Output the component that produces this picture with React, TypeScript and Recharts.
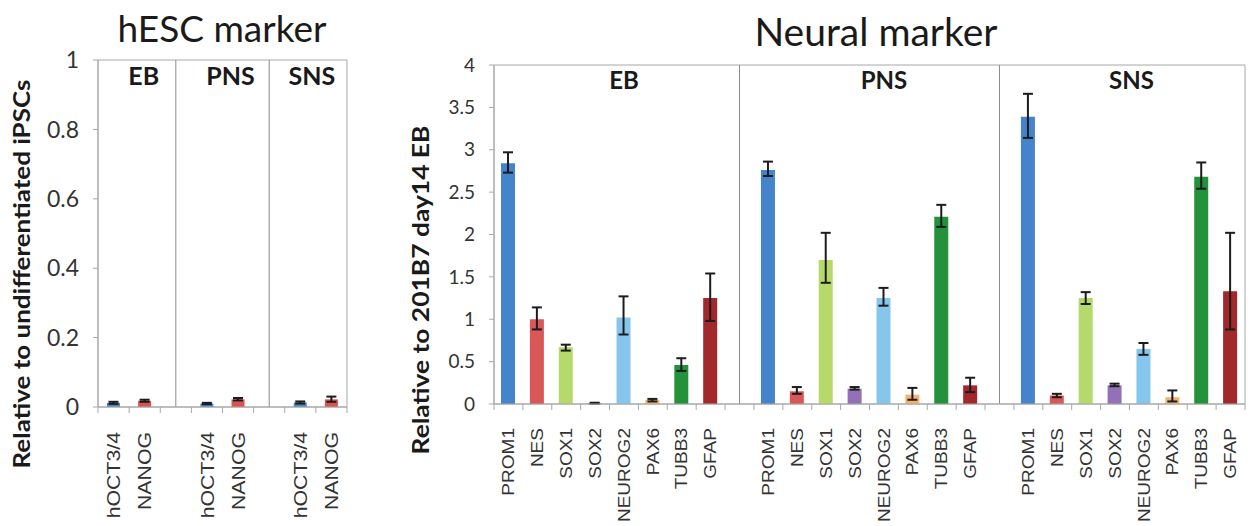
import React from 'react'
import {
  BarChart, Bar, XAxis, YAxis, Cell, ErrorBar,
  ReferenceLine, ReferenceArea,
} from 'recharts'

const stages = ['EB', 'PNS', 'SNS']

// hESC markers, one value per stage (EB, PNS, SNS)
const hescMarkers = ['hOCT3/4', 'NANOG']
const hescColors = ['#4a86c8', '#d9534f']
const hescTicks = [0, 0.2, 0.4, 0.6, 0.8, 1]
const octMean = [0.012, 0.010, 0.013]
const octLow = [0.009, 0.008, 0.010]
const octHigh = [0.015, 0.012, 0.016]
const nanogMean = [0.018, 0.022, 0.022]
const nanogLow = [0.015, 0.019, 0.015]
const nanogHigh = [0.021, 0.026, 0.030]

// neural markers, one array per stage
const neuralMarkers = ['PROM1', 'NES', 'SOX1', 'SOX2', 'NEUROG2', 'PAX6', 'TUBB3', 'GFAP']
const neuralColors = ['#4584cc', '#d95757', '#b6d96b', '#9470b8', '#86c6ec', '#f5b26e', '#23923b', '#a3282c']
const neuralTicks = [0, 0.5, 1, 1.5, 2, 2.5, 3, 3.5, 4]
const ebMean = [2.84, 1.0, 0.67, 0.01, 1.02, 0.05, 0.46, 1.25]
const ebLow = [2.73, 0.88, 0.63, 0.005, 0.82, 0.03, 0.39, 0.98]
const ebHigh = [2.97, 1.14, 0.70, 0.015, 1.27, 0.06, 0.54, 1.54]
const pnsMean = [2.76, 0.15, 1.70, 0.18, 1.25, 0.11, 2.21, 0.22]
const pnsLow = [2.69, 0.12, 1.43, 0.17, 1.16, 0.05, 2.09, 0.14]
const pnsHigh = [2.86, 0.20, 2.02, 0.20, 1.37, 0.19, 2.35, 0.31]
const snsMean = [3.39, 0.10, 1.25, 0.22, 0.65, 0.08, 2.68, 1.33]
const snsLow = [3.14, 0.08, 1.18, 0.21, 0.58, 0.03, 2.54, 0.88]
const snsHigh = [3.66, 0.12, 1.32, 0.24, 0.72, 0.16, 2.85, 2.02]

const FONT = 'Lato, "Open Sans", sans-serif'
const GRID = '#a8a8a8'

type Row = { key: string; label: string; value: number | null; err?: [number, number]; color?: string }

function buildRows(markers: string[], colors: string[], mean: number[][], low: number[][], high: number[][]) {
  const rows: Row[] = []
  stages.forEach((stage, s) => {
    if (s > 0) rows.push({ key: `gap${s}`, label: '', value: null })
    markers.forEach((m, i) => {
      rows.push({
        key: `${stage}|${m}`,
        label: m,
        value: mean[s][i],
        err: [mean[s][i] - low[s][i], high[s][i] - mean[s][i]],
        color: colors[i],
      })
    })
  })
  return rows
}

const hescRows = buildRows(
  hescMarkers, hescColors,
  stages.map((_, s) => [octMean[s], nanogMean[s]]),
  stages.map((_, s) => [octLow[s], nanogLow[s]]),
  stages.map((_, s) => [octHigh[s], nanogHigh[s]]),
)
const neuralRows = buildRows(
  neuralMarkers, neuralColors,
  [ebMean, pnsMean, snsMean],
  [ebLow, pnsLow, snsLow],
  [ebHigh, pnsHigh, snsHigh],
)

// category tick: Excel style marks between categories, rotated label
function SlotTick(props: any) {
  const { x, y, index, slot, count, fontSize, textGap } = props
  const row = props.rows[index] as Row
  const ty = y + textGap
  return (
    <g>
      <line x1={x - slot / 2} x2={x - slot / 2} y1={y} y2={y + 6} stroke={GRID} />
      {index === count - 1 && (
        <line x1={x + slot / 2} x2={x + slot / 2} y1={y} y2={y + 6} stroke={GRID} />
      )}
      {row && row.label && (
        <text
          x={0}
          y={0}
          transform={`translate(${x}, ${ty}) rotate(-90) scale(1.12, 1)`}
          textAnchor="end"
          dominantBaseline="central"
          fontSize={fontSize}
          fontFamily='"Liberation Sans", Arial, sans-serif'
          fill="#333"
        >
          {row.label}
        </text>
      )}
    </g>
  )
}

function StageLabel(props: any) {
  const { viewBox, text, offset, fontSize, dx } = props
  if (!viewBox) return null
  return (
    <text
      x={viewBox.x + viewBox.width / 2 + (dx || 0)}
      y={viewBox.y + offset}
      textAnchor="middle"
      dominantBaseline="hanging"
      fontSize={fontSize}
      fontWeight={700}
      fontFamily={FONT}
      fill="#1a1a1a"
    >
      {text}
    </text>
  )
}

interface ChartProps {
  rows: Row[]
  width: number
  height: number
  margin: { top: number; right: number; bottom: number; left: number }
  yWidth: number
  yMax: number
  yTicks: number[]
  yFont: number
  barSize: number
  xFont: number
  textGap: number
  stageFont: number
  stageOffset: number
  spans: [string, string][]
  stageDx: number[]
}

function MarkerChart(p: ChartProps) {
  const count = p.rows.length
  const slot = (p.width - p.margin.left - p.margin.right - p.yWidth) / count
  const gaps = p.rows.filter(r => r.value === null).map(r => r.key)
  return (
    <BarChart
      width={p.width}
      height={p.height}
      data={p.rows}
      margin={p.margin}
      barCategoryGap={0}
    >
      <ReferenceArea
        x1={p.rows[0].key}
        x2={p.rows[count - 1].key}
        y1={0}
        y2={p.yMax}
        fill="none"
        stroke={GRID}
        strokeWidth={1}
      />
      {gaps.map(g => (
        <ReferenceLine key={g} x={g} stroke="#8c8c8c" strokeWidth={1} />
      ))}
      {stages.map((s, i) => (
        <ReferenceArea
          key={s}
          x1={p.spans[i][0]}
          x2={p.spans[i][1]}
          y1={0}
          y2={p.yMax}
          fill="none"
          stroke="none"
          label={<StageLabel text={s} offset={p.stageOffset} fontSize={p.stageFont} dx={p.stageDx[i]} />}
        />
      ))}
      <XAxis
        dataKey="key"
        interval={0}
        height={100}
        tickSize={0}
        tickMargin={0}
        tickLine={false}
        axisLine={{ stroke: GRID }}
        tick={<SlotTick rows={p.rows} slot={slot} count={count} fontSize={p.xFont} textGap={p.textGap} />}
      />
      <YAxis
        width={p.yWidth}
        domain={[0, p.yMax]}
        ticks={p.yTicks}
        interval={0}
        tickSize={5}
        tickMargin={14}
        axisLine={{ stroke: GRID }}
        tickLine={{ stroke: GRID }}
        tick={{ fontSize: p.yFont, fill: '#333', fontFamily: FONT }}
      />
      <Bar dataKey="value" barSize={p.barSize} isAnimationActive={false}>
        {p.rows.map(r => (
          <Cell key={r.key} fill={r.color || 'none'} />
        ))}
        <ErrorBar dataKey="err" width={5} stroke="#1c1c1c" strokeWidth={2} />
      </Bar>
    </BarChart>
  )
}

const titleStyle: React.CSSProperties = {
  position: 'absolute',
  transform: 'translate(-50%, -50%)',
  whiteSpace: 'nowrap',
  fontFamily: FONT,
  color: '#1a1a1a',
  lineHeight: 1,
}

const yLabelStyle: React.CSSProperties = {
  position: 'absolute',
  whiteSpace: 'nowrap',
  fontFamily: FONT,
  fontWeight: 700,
  color: '#1a1a1a',
  lineHeight: 1,
}

export default function App() {
  return (
    <div style={{ position: 'absolute', left: 0, top: 0, width: 1253, height: 526, background: '#fff' }}>
      <div style={{ position: 'absolute', left: 0, top: 0 }}>
        <MarkerChart
          rows={hescRows}
          width={360}
          height={526}
          margin={{ top: 60, right: 13, bottom: 19, left: 58 }}
          yWidth={40}
          yMax={1}
          yTicks={hescTicks}
          yFont={23}
          barSize={13}
          xFont={19}
          textGap={25}
          stageFont={25}
          stageOffset={15}
          spans={[
            ['EB|hOCT3/4', 'gap1'],
            ['gap1', 'gap2'],
            ['SNS|hOCT3/4', 'SNS|NANOG'],
          ]}
          stageDx={[-1, 8, -4]}
        />
      </div>
      <div style={{ position: 'absolute', left: 360, top: 0 }}>
        <MarkerChart
          rows={neuralRows}
          width={893}
          height={526}
          margin={{ top: 65, right: 8, bottom: 22, left: 94 }}
          yWidth={40}
          yMax={4}
          yTicks={neuralTicks}
          yFont={19}
          barSize={14}
          xFont={17}
          textGap={24}
          stageFont={24}
          stageOffset={16}
          spans={[
            ['EB|PROM1', 'gap1'],
            ['PNS|PROM1', 'gap2'],
            ['SNS|PROM1', 'SNS|GFAP'],
          ]}
          stageDx={[0, 0, 2]}
        />
      </div>
      <div style={{ ...titleStyle, left: 222, top: 27, fontSize: 37 }}>hESC marker</div>
      <div style={{ ...titleStyle, left: 876, top: 31, fontSize: 39 }}>Neural marker</div>
      <div style={{ ...yLabelStyle, left: 22, top: 274, fontSize: 22, transform: 'translate(-50%, -50%) rotate(-90deg) scaleX(1.18)' }}>
        Relative to undifferentiated iPSCs
      </div>
      <div style={{ ...yLabelStyle, left: 421, top: 290, fontSize: 22, transform: 'translate(-50%, -50%) rotate(-90deg) scaleX(1.2)' }}>
        Relative to 201B7 day14 EB
      </div>
    </div>
  )
}
